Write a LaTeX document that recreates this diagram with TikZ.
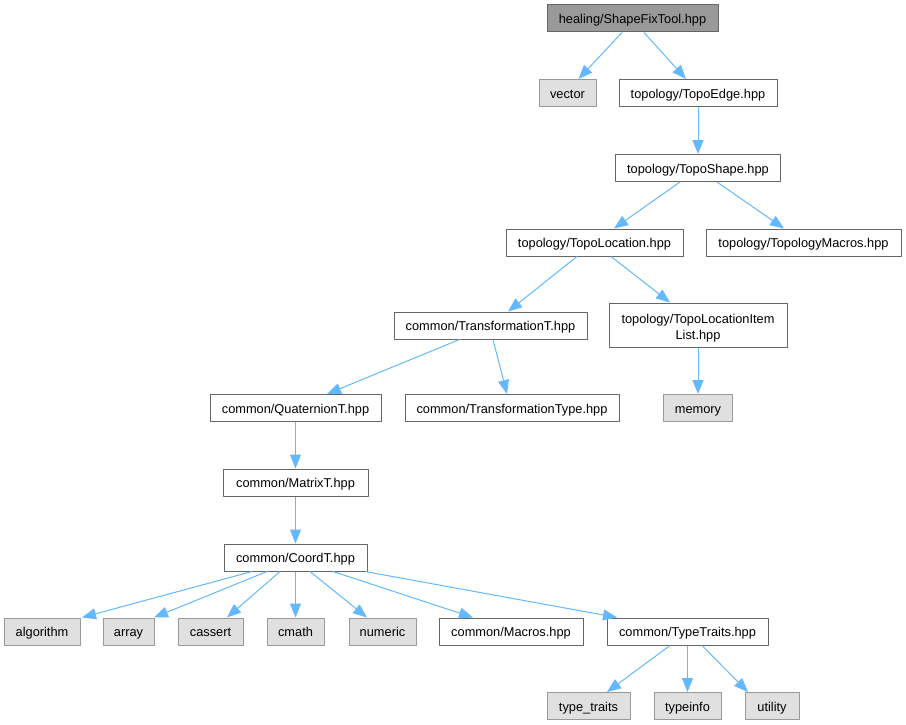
\documentclass[tikz,border=0pt]{standalone}
\usepackage{fontspec}
\setmainfont{Liberation Sans}
\usepackage{xcolor}
\usetikzlibrary{arrows.meta}

\definecolor{edgeblue}{HTML}{63B8FF}
\definecolor{boxline}{HTML}{666666}
\definecolor{extline}{HTML}{999999}
\definecolor{extfill}{HTML}{E0E0E0}
\definecolor{mainfill}{HTML}{999999}

\begin{document}
\begin{tikzpicture}[line join=round,>={Triangle[length=14pt,width=11pt]},x=1pt,y=-1pt,
  hdr/.style={draw=boxline,fill=white,line width=1pt,minimum height=27,inner sep=0pt,
    font=\fontsize{12.8}{16}\selectfont,text height=12,text depth=1.4},
  mainh/.style={hdr,fill=mainfill},
  sysh/.style={hdr,draw=extline,fill=extfill},
  dep/.style={->,draw=edgeblue,line width=1pt}]

% page size
\useasboundingbox (0,0) rectangle (906,725);

% row heights
\def\ra{18.5}
\def\rb{93}
\def\rc{168}
\def\rd{242.5}
\def\re{325.5}
\def\rf{408}
\def\rg{482.5}
\def\rh{557.5}
\def\ri{631.5}
\def\rj{706}

% headers of the project
\node[mainh,minimum width=171] (shapefix) at (632.5,\ra) {healing/ShapeFixTool.hpp};
\node[hdr,minimum width=158] (topoedge) at (698,\rb) {topology/TopoEdge.hpp};
\node[hdr,minimum width=165] (toposhape) at (698,\rc) {topology/TopoShape.hpp};
\node[hdr,minimum width=177] (topoloc) at (594.5,\rd) {topology/TopoLocation.hpp};
\node[hdr,minimum width=195] (topomacros) at (803.5,\rd) {topology/TopologyMacros.hpp};
\node[hdr,minimum width=193] (transt) at (490.5,\re) {common/TransformationT.hpp};
\node[hdr,minimum width=178,minimum height=44,align=center,text height=30,text depth=1.6]
  (locitem) at (698,325) {topology/TopoLocationItem\\List.hpp};
\node[hdr,minimum width=214] (transtype) at (512,\rf) {common/TransformationType.hpp};
\node[hdr,minimum width=171] (quat) at (295.5,\rf) {common/QuaternionT.hpp};
\node[hdr,minimum width=145] (matrix) at (295.5,\rg) {common/MatrixT.hpp};
\node[hdr,minimum width=143] (coord) at (295.5,\rh) {common/CoordT.hpp};
\node[hdr,minimum width=144] (macros) at (511,\ri) {common/Macros.hpp};
\node[hdr,minimum width=161] (traits) at (687.5,\ri) {common/TypeTraits.hpp};

% system headers
\node[sysh,minimum width=57] (vec) at (567.5,\rb) {vector};
\node[sysh,minimum width=69] (mem) at (698,\rf) {memory};
\node[sysh,minimum width=76] (algo) at (42,\ri) {algorithm};
\node[sysh,minimum width=51] (arr) at (128.5,\ri) {array};
\node[sysh,minimum width=65] (cass) at (210.5,\ri) {cassert};
\node[sysh,minimum width=57] (cmath) at (295.5,\ri) {cmath};
\node[sysh,minimum width=67] (num) at (382.5,\ri) {numeric};
\node[sysh,minimum width=83] (ttraits) at (588.5,\rj) {type\_traits};
\node[sysh,minimum width=67] (tinfo) at (687.5,\rj) {typeinfo};
\node[sysh,minimum width=54] (util) at (772,\rj) {utility};

% include arrows
\draw[dep] ([xshift=-10.5]shapefix.south) -- ([xshift=11]vec.north);
\draw[dep] ([xshift=11.5]shapefix.south) -- ([xshift=-12]topoedge.north);
\draw[dep] (topoedge) -- (toposhape);
\draw[dep] ([xshift=-18]toposhape.south) -- ([xshift=19.5]topoloc.north);
\draw[dep] ([xshift=19]toposhape.south) -- ([xshift=-19.5]topomacros.north);
\draw[dep] ([xshift=-17.5]topoloc.south) -- ([xshift=17.5]transt.north);
\draw[dep] ([xshift=16.5]topoloc.south) -- ([xshift=-28]locitem.north);
\draw[dep] ([xshift=-31]transt.south) -- ([xshift=31.5]quat.north);
\draw[dep] ([xshift=2.5]transt.south) -- ([xshift=-5]transtype.north);
\draw[dep] (locitem) -- (mem);
\draw[dep] (quat) -- (matrix);
\draw[dep] (matrix) -- (coord);

% arrows out of CoordT
\draw[dep] ([xshift=-43.5]coord.south) -- ([xshift=40]algo.north);
\draw[dep] ([xshift=-28.5]coord.south) -- ([xshift=25.5]arr.north);
\draw[dep] ([xshift=-15.5]coord.south) -- ([xshift=16.5]cass.north);
\draw[dep] (coord) -- (cmath);
\draw[dep] ([xshift=14.5]coord.south) -- ([xshift=-15.5]num.north);
\draw[dep] ([xshift=37.5]coord.south) -- ([xshift=-38]macros.north);
\draw[dep] ([xshift=69.5]coord.south) -- ([xshift=-70.5]traits.north);

% arrows out of TypeTraits
\draw[dep] ([xshift=-17.5]traits.south) -- ([xshift=18.5]ttraits.north);
\draw[dep] (traits) -- (tinfo);
\draw[dep] ([xshift=14.5]traits.south) -- ([xshift=-24]util.north);

\end{tikzpicture}
\end{document}
